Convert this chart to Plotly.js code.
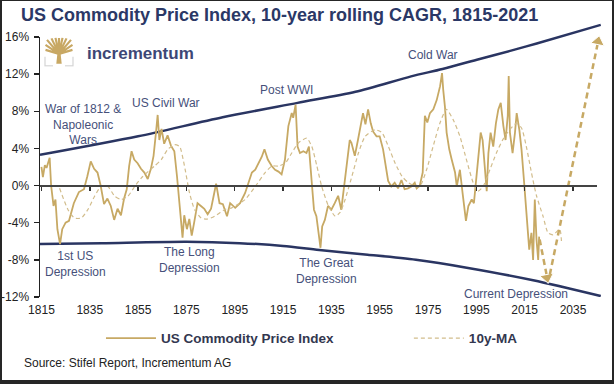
<!DOCTYPE html>
<html><head><meta charset="utf-8">
<script src="https://cdn.plot.ly/plotly-3.0.1.min.js"></script>
<style>
html,body{margin:0;padding:0;background:#fff;}
#chart{width:614px;height:384px;}
#frame{position:fixed;left:0;top:0;width:614px;height:384px;box-sizing:border-box;border-style:solid;border-color:#262626;border-width:1px 2px 4px 2px;pointer-events:none;}
</style></head><body>
<div id="chart"></div><div id="frame"></div>
<script>
// US Commodity Price Index, 10y rolling CAGR (%)
const cpiYears = [1815.0,1815.6,1816.4,1817.1,1818.4,1819.0,1820.0,1820.8,1821.6,1822.7,1823.6,1825.0,1826.4,1828.4,1830.5,1832.6,1834.0,1835.4,1836.8,1838.2,1839.5,1840.9,1842.3,1843.7,1845.1,1846.5,1847.9,1849.2,1850.3,1851.3,1852.3,1853.4,1854.8,1856.2,1857.6,1859.0,1860.3,1861.4,1862.4,1863.1,1863.8,1864.7,1865.8,1867.2,1868.6,1870.0,1871.1,1871.6,1872.7,1873.4,1874.1,1875.2,1876.2,1877.2,1878.2,1879.6,1881.0,1882.4,1883.8,1885.2,1886.6,1887.3,1888.7,1890.1,1891.8,1893.1,1895.2,1897.2,1899.3,1900.7,1902.1,1903.5,1904.8,1906.2,1907.3,1908.7,1910.3,1911.7,1913.1,1914.4,1915.8,1917.2,1918.6,1919.2,1920.2,1921.0,1922.0,1923.4,1924.7,1925.7,1926.8,1927.8,1928.8,1929.8,1930.5,1931.2,1932.3,1933.6,1935.0,1936.4,1937.8,1939.1,1940.5,1941.9,1942.6,1943.3,1944.7,1946.0,1947.2,1948.1,1949.1,1950.2,1951.3,1952.3,1953.7,1955.0,1956.4,1957.8,1958.5,1959.8,1961.2,1962.6,1964.0,1965.3,1966.7,1968.1,1969.5,1970.3,1971.6,1972.8,1973.3,1973.7,1974.7,1975.8,1977.2,1978.6,1980.0,1980.8,1981.3,1982.0,1982.7,1983.8,1984.8,1986.2,1986.9,1988.2,1989.3,1990.7,1991.7,1993.1,1994.0,1994.9,1995.9,1996.8,1997.6,1998.6,1999.3,2000.0,2000.9,2002.0,2003.1,2004.1,2005.1,2006.2,2007.1,2008.0,2008.4,2008.9,2010.0,2011.0,2011.7,2012.8,2013.7,2014.7,2015.5,2016.2,2016.9,2017.8,2018.5,2019.2,2019.9,2020.6,2021.0];
const cpiValues = [2.0,0.9,2.2,1.9,3.0,0.0,-2.2,-1.5,-4.7,-6.3,-4.7,-4.0,-3.8,-1.9,-0.7,-0.4,1.0,2.6,1.8,1.4,0.0,-2.0,-1.4,-2.2,-3.7,-2.5,-3.2,-1.4,-0.4,2.1,3.7,2.8,2.4,1.8,1.4,0.7,1.8,3.2,5.7,7.6,4.9,6.1,4.5,5.4,4.3,3.7,1.0,-0.4,-3.2,-5.6,-3.2,-4.7,-3.6,-5.4,-4.0,-1.9,-2.2,-2.5,-3.1,-2.5,-0.7,0.2,-1.9,-2.0,-3.3,-1.9,-2.4,-1.9,-0.8,0.3,1.4,1.7,2.4,3.1,3.9,2.8,2.1,1.7,1.5,1.2,2.8,6.4,7.8,7.3,8.7,4.2,3.5,3.7,3.5,4.2,0.6,-2.6,-3.3,-5.1,-6.7,-4.4,-3.7,-2.2,-2.6,-1.9,-1.1,-2.6,0.6,3.9,4.9,4.6,3.2,4.9,6.4,7.8,6.6,8.2,6.7,5.8,5.3,5.3,3.9,1.7,0.5,-0.1,0.3,-0.3,0.6,-0.4,-0.3,-0.1,0.3,-0.3,0.0,1.4,4.9,7.5,6.8,7.8,8.2,9.2,10.7,12.1,10.3,8.5,5.7,3.9,2.8,1.4,-0.1,1.7,-0.8,-3.8,-2.2,-1.5,-1.9,0.3,2.8,5.7,4.9,1.7,-0.6,3.5,5.7,4.2,6.7,8.2,8.9,6.4,4.9,7.5,11.8,5.7,3.5,5.7,7.8,6.0,3.9,0.6,-2.2,-5.1,-6.9,-5.1,-8.0,-1.5,-5.8,-8.0,-5.5];
// 10-year moving average (%)
const maYears = [1822.5,1826.0,1828.7,1831.5,1834.2,1837.0,1839.7,1842.5,1845.3,1848.0,1850.8,1853.6,1856.3,1859.1,1861.8,1864.6,1867.3,1870.1,1872.2,1874.2,1876.3,1878.4,1881.1,1883.9,1886.7,1890.8,1893.8,1896.5,1899.3,1903.5,1907.6,1910.4,1913.1,1915.9,1918.6,1921.4,1924.8,1926.9,1929.0,1931.0,1933.8,1936.6,1938.6,1940.7,1943.5,1946.2,1949.0,1953.1,1955.9,1958.6,1961.4,1964.2,1966.9,1969.7,1971.6,1974.4,1977.1,1979.9,1982.6,1985.4,1988.2,1990.9,1993.7,1995.7,1997.8,2000.6,2003.3,2006.1,2008.8,2011.6,2013.7,2015.7,2017.8,2019.9,2022.6,2024.7,2026.8,2029.5,2030.3];
const maValues = [-0.3,-2.6,-3.5,-3.5,-2.6,-1.15,-0.1,-0.1,-1.15,-1.5,-1.15,-0.1,0.8,1.5,2.1,2.8,3.9,4.4,4.2,2.1,-0.8,-2.6,-3.5,-3.6,-3.3,-2.6,-2.4,-2.0,-1.5,-0.1,1.4,2.1,2.1,2.4,3.5,4.6,5.1,4.2,2.1,-0.1,-2.2,-3.3,-2.9,-1.5,1.0,3.5,5.3,6.0,5.7,4.2,2.4,1.0,0.3,-0.1,-0.1,1.7,4.2,6.7,8.2,7.1,5.3,2.8,0.3,-0.6,-0.1,1.7,3.5,5.0,6.0,6.7,6.2,4.2,1.4,-1.1,-3.3,-5.1,-5.3,-4.7,-6.3];
// Trend channel
const upperYears = [1814.4,1855,1890,1921,1945,1968,1981,1996,2009,2020,2046.5];
const upperValues = [3.3,5.3,7.35,8.9,10.1,11.75,12.55,13.6,14.5,15.3,17.3];
const lowerYears = [1814.4,1840,1875,1897,1915,1930,1950,1970,1991,2018.5,2046.5];
const lowerValues = [-6.3,-6.2,-6.05,-6.2,-6.5,-6.95,-7.45,-8.0,-8.85,-10.2,-11.9];
// Projection arrows
const downArrowYears = [2021.2,2024.3];
const downArrowValues = [-5.8,-9.9];
const upArrowYears = [2025.4,2045.4];
const upArrowValues = [-9.6,15.5];
// Axis ticks
const tickYears = [1815,1835,1855,1875,1895,1915,1935,1955,1975,1995,2015,2035];
const tickLabels = ['1815','1835','1855','1875','1895','1915','1935','1955','1975','1995','2015','2035'];
const yTickVals = [-12,-8,-4,0,4,8,12,16];
const yTickText = ['-12%','-8%','-4%','0%','4%','8%','12%','16%'];

const GOLD = '#c7a964';
const NAVY = '#2a3562';
const LABEL = '#46507a';
const FONT = 'Liberation Sans, Arial, sans-serif';

// plot-area geometry helpers (pixels -> paper fractions)
const PL = 40, PB = 297.5, PW = 561.2, PH = 274.4;
const px = v => (v - PL) / PW;
const py = v => (PB - v) / PH;

const traces = [
  {x: upperYears, y: upperValues, mode:'lines', line:{color:NAVY,width:2.5,shape:'spline',smoothing:0.8}, showlegend:false, hoverinfo:'skip'},
  {x: lowerYears, y: lowerValues, mode:'lines', line:{color:NAVY,width:2.5,shape:'spline',smoothing:0.8}, showlegend:false, hoverinfo:'skip'},
  {x: cpiYears, y: cpiValues, name:'US Commodity Price Index', legend:'legend', mode:'lines', line:{color:GOLD,width:1.8}},
  {x: maYears, y: maValues, name:'10y-MA', legend:'legend2', mode:'lines', line:{color:'#d2bd8c',width:1.2,dash:'4px,3px',shape:'spline',smoothing:0.6}},
  {x: downArrowYears, y: downArrowValues, mode:'lines+markers', cliponaxis:false, line:{color:GOLD,width:2.5,dash:'6px,4px'},
   marker:{symbol:'triangle-up',angleref:'previous',size:[0,12],opacity:[0,1],color:GOLD}, showlegend:false, hoverinfo:'skip'},
  {x: upArrowYears, y: upArrowValues, mode:'lines+markers', cliponaxis:false, line:{color:GOLD,width:2.5,dash:'6px,4px'},
   marker:{symbol:'triangle-up',angleref:'previous',size:[0,12],opacity:[0,1],color:GOLD}, showlegend:false, hoverinfo:'skip'},
  // carriers for the display-only axes (invisible)
  {x:[1900], y:[0], xaxis:'x2', yaxis:'y', mode:'markers', marker:{opacity:0,size:1}, showlegend:false, hoverinfo:'skip'},
  {x:[1900], y:[0], xaxis:'x', yaxis:'y2', mode:'markers', marker:{opacity:0,size:1}, showlegend:false, hoverinfo:'skip'}
];

const ann = (x,y,text,extra) => Object.assign({x:x,y:y,xref:'x',yref:'y',text:text,showarrow:false,
  font:{family:FONT,size:12,color:LABEL},xanchor:'center',yanchor:'middle'}, extra||{});

const logoSvg = '<svg xmlns="http://www.w3.org/2000/svg" viewBox="0 0 30 30">'
 + '<g stroke="#c8a864" stroke-width="2.2" stroke-linecap="butt" fill="none">'
 + '<path d="M15 17 L3 3 M15 17 L7.5 1.5 M15 17 L11.5 1 M15 17 L15 1 M15 17 L18.5 1 M15 17 L22.5 1.5 M15 17 L27 3 M15 17 L1.5 8 M15 17 L28.5 8 M15 17 L1.5 13 M15 17 L28.5 13"/></g>'
 + '<path d="M12.3 27 L13.6 15 L16.4 15 L17.7 27 Z" fill="#c8a864"/>'
 + '<path d="M1 20 V29 H9 M29 20 V29 H21" stroke="#d4d4d4" stroke-width="1.2" fill="none"/></svg>';

const legendFont = {family:FONT,size:13.5,color:'#33374f',weight:'bold'};

const layout = {
  width:614, height:384,
  margin:{l:PL, r:614-PL-PW, t:PB-PH, b:384-PB, pad:0},
  paper_bgcolor:'#ffffff', plot_bgcolor:'rgba(0,0,0,0)',
  font:{family:FONT,color:'#222'},
  title:{text:'US Commodity Price Index, 10-year rolling CAGR, 1815-2021', xref:'container', yref:'container',
    x:21/614, xanchor:'left', y:1-15/384, yanchor:'middle', font:{family:FONT,size:18,color:'#2b3866',weight:'bold'}},
  xaxis:{range:[1814.4,2046.6], tickvals:tickYears, ticktext:tickLabels, ticks:'', showline:false, showgrid:false,
    zeroline:false, tickfont:{family:FONT,size:12,color:'#222'}, ticklabelstandoff:4, fixedrange:true, anchor:'y'},
  xaxis2:{domain:[0,px(597)], range:[1814.4,1814.4+557/2.417], anchor:'free', position:12/29.5, side:'bottom',
    ticks:'outside', ticklen:4, tickwidth:1.5, tickcolor:'#333', tickvals:tickYears, showticklabels:false,
    showline:true, linecolor:'#444', linewidth:2, showgrid:false, zeroline:false, fixedrange:true},
  yaxis:{range:[-12,17.5], showline:false, ticks:'', showticklabels:false, showgrid:false, zeroline:false, fixedrange:true},
  yaxis2:{domain:[0,28/29.5], range:[-12,16], anchor:'x', side:'left', tickvals:yTickVals, ticktext:yTickText,
    ticks:'outside', ticklen:5, tickwidth:1.3, tickcolor:'#222', showline:true, linecolor:'#222', linewidth:1.5,
    showgrid:false, zeroline:false, tickfont:{family:FONT,size:12,color:'#222'}, ticklabelstandoff:2, fixedrange:true},
  showlegend:true,
  legend:{orientation:'h', x:px(101), y:py(339), xanchor:'left', yanchor:'middle', font:legendFont,
    itemwidth:50, bgcolor:'rgba(0,0,0,0)', borderwidth:0},
  legend2:{orientation:'h', x:px(409), y:py(339), xanchor:'left', yanchor:'middle', font:legendFont,
    itemwidth:50, bgcolor:'rgba(0,0,0,0)', borderwidth:0},
  images:[{source:'data:image/svg+xml;charset=utf-8,'+encodeURIComponent(logoSvg), xref:'paper', yref:'paper',
    x:px(44), y:py(37), sizex:30/PW, sizey:30/PH, xanchor:'left', yanchor:'top', sizing:'stretch', layer:'above'}],
  annotations:[
    {x:px(85), y:py(53.3), xref:'paper', yref:'paper', text:'incrementum', showarrow:false,
      xanchor:'left', yanchor:'middle', font:{family:FONT,size:17,color:'#3d4776',weight:'bold'}},
    ann(1832.2,6.56,'War of 1812 &<br>Napoleonic<br>Wars'),
    ann(1866.6,8.89,'US Civil War'),
    ann(1916.6,10.32,'Post WWI'),
    ann(1977.2,14.1,'Cold War'),
    ann(1828.9,-8.4,'1st US<br>Depression'),
    ann(1876.4,-8.05,'The Long<br>Depression'),
    ann(1933.0,-9.25,'The Great<br>Depression'),
    ann(2011.6,-11.65,'Current Depression'),
    ann(2039.9,17.85,'2045e'),
    {x:px(22), y:py(364), xref:'paper', yref:'paper', text:'Source: Stifel Report, Incrementum AG',
      showarrow:false, xanchor:'left', yanchor:'middle', font:{family:FONT,size:12,color:'#222'}}
  ]
};

Plotly.newPlot('chart', traces, layout, {staticPlot:true, displayModeBar:false});
</script>
</body></html>
